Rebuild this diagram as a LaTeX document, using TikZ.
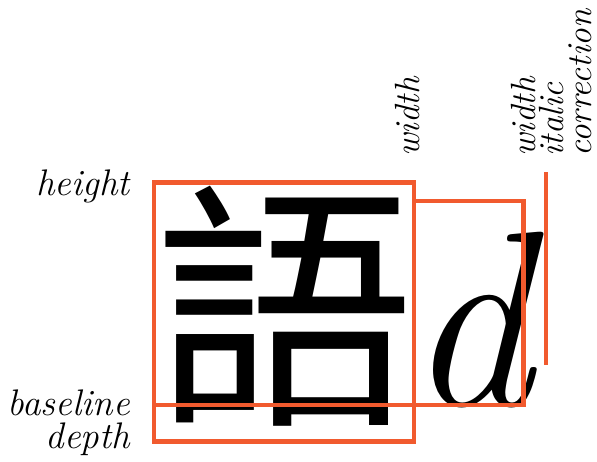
\documentclass[tikz,border=0pt]{standalone}
\usepackage{fontspec}
\newfontfamily\cjk{Noto Sans CJK SC}
\usetikzlibrary{positioning}
\definecolor{metricred}{HTML}{F15A2E}

\begin{document}
\begin{tikzpicture}[x=1pt,y=-1pt, every node/.style={inner sep=0pt}, lbl/.style={font=\fontsize{37}{30}\selectfont\itshape,align=right}, vlbl/.style={font=\fontsize{35}{28}\selectfont\itshape,rotate=90,align=left,anchor=south west}, metric/.style={draw=metricred,line width=4.5pt}]
\useasboundingbox (0,0) rectangle (597,461);
\coordinate (em-nw) at (154,182.5);
\coordinate (em-se) at (414,441.5);
\coordinate (base-w) at (154,405);
\coordinate (d-nw) at (414,201);
\coordinate (d-se) at (523.5,405);
\coordinate (ic-top) at (546,172);
\coordinate (ic-bot) at (546,365);
\node[anchor=base west,font=\cjk\fontsize{260}{260}\selectfont] (kanji) at (base-w) {語};
\node[anchor=base west,font=\fontsize{250}{250}\selectfont\itshape] (dglyph) at (406,405) {d};
\draw[metric] (em-nw) rectangle (em-se);
\draw[metric] (d-nw) rectangle (d-se);
\draw[metric] (base-w) -- (d-se);
\draw[metric] (ic-top) -- (ic-bot);
\node[lbl,anchor=base east] (height) at (130,195) {height};
\node[lbl,anchor=base east] (baseline) at (130,415) {baseline};
\node[lbl,anchor=base east] (depth) at (130,448) {depth};
\node[vlbl] (width1) at (420,157) {width};
\node[vlbl] (width2) at (592,157) {width\\italic\\correction};
\end{tikzpicture}
\end{document}
